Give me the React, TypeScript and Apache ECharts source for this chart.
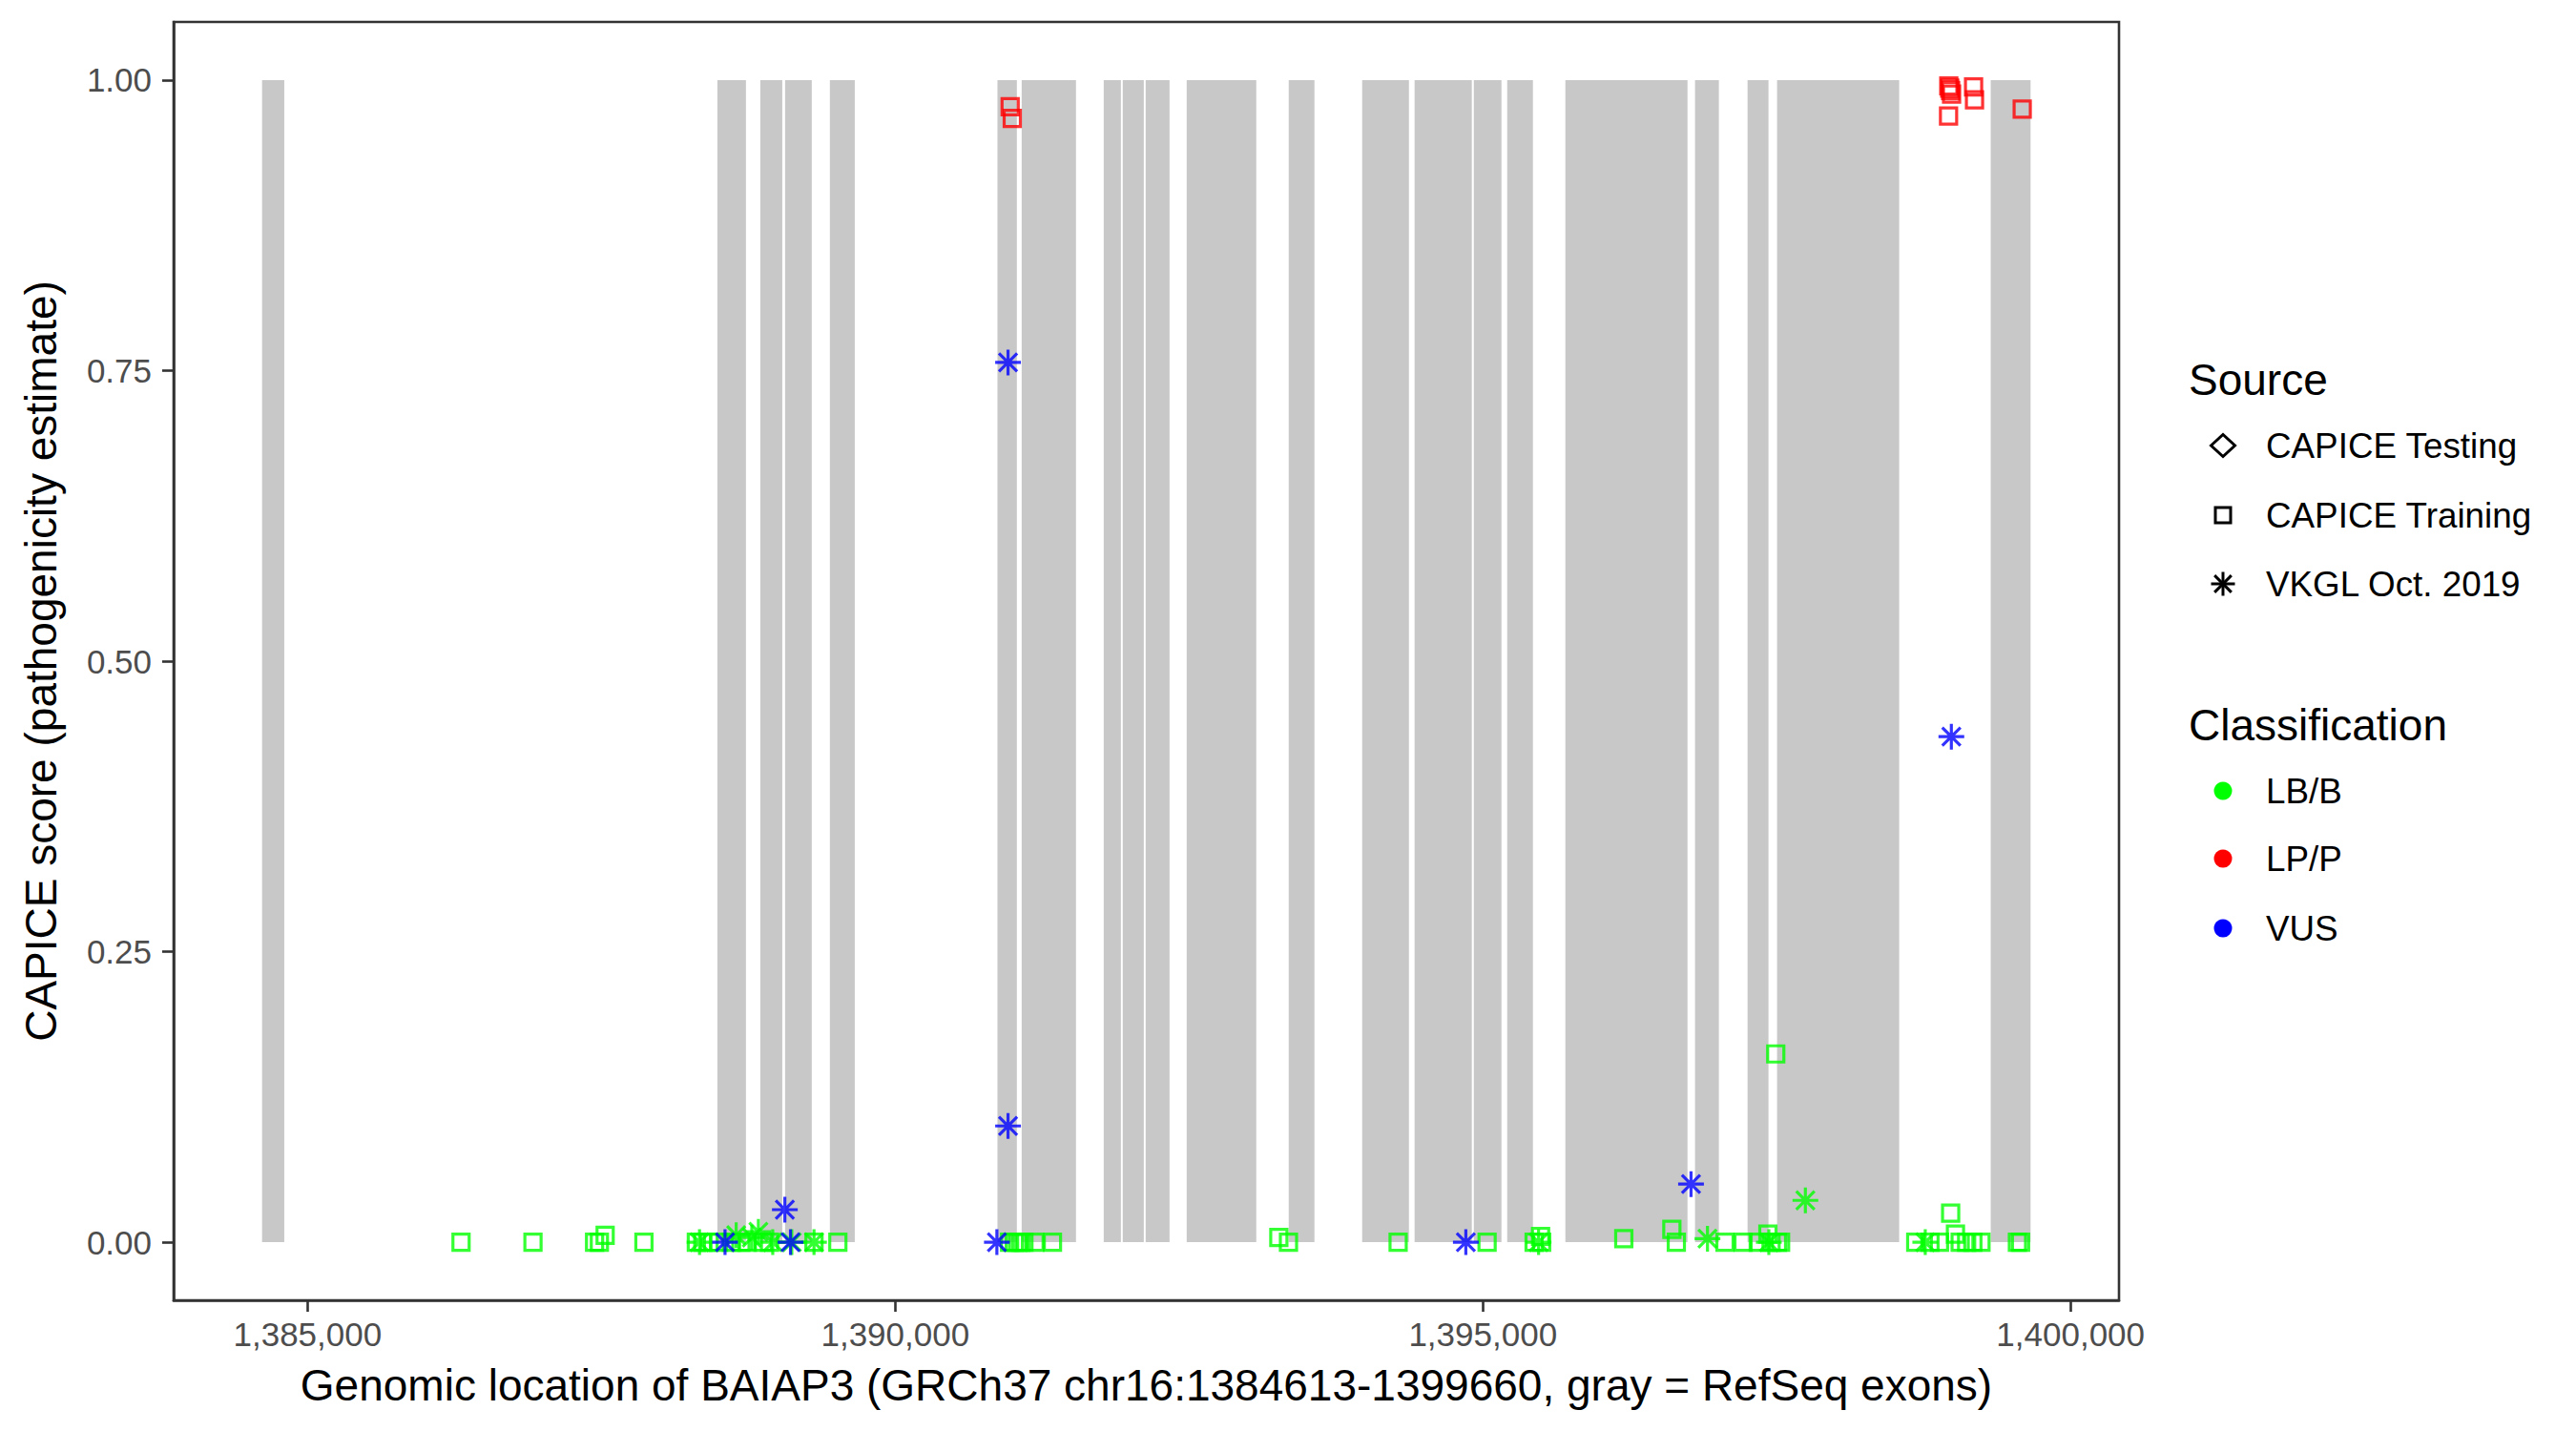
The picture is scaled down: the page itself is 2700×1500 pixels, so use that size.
import React, { useEffect, useRef } from "react";
import * as echarts from "echarts";

// ---- data ----
const exonStarts: number[] = [
  1384613, 1388487, 1388852, 1389063, 1389444, 1390870, 1391076, 1391774, 1391936, 1392131,
  1392480, 1393348, 1393973, 1394419, 1394923, 1395207, 1395702, 1396805, 1397252, 1397503, 1399321,
];
const exonEnds: number[] = [
  1384802, 1388730, 1389039, 1389290, 1389656, 1391035, 1391538, 1391920, 1392115, 1392334,
  1393072, 1393567, 1394371, 1394906, 1395158, 1395426, 1396741, 1397008, 1397430, 1398542, 1399660,
];

// CAPICE Training, LB/B (green squares): [position, score]
const trainingLB: [number, number][] = [
  [1386306, 0], [1386918, 0], [1387442, 0], [1387483, 0], [1387532, 0.006], [1387862, 0],
  [1388308, 0], [1388363, 0], [1388416, 0], [1388497, 0], [1388606, 0], [1388687, 0],
  [1388741, 0], [1388876, 0], [1388931, 0], [1389309, 0], [1389512, 0],
  [1390973, 0], [1391013, 0], [1391041, 0], [1391068, 0], [1391095, 0], [1391189, 0], [1391338, 0],
  [1393264, 0.004], [1393346, 0], [1394279, 0], [1395036, 0], [1395436, 0], [1395491, 0.005],
  [1395500, 0], [1396199, 0.003],
  [1396608, 0.011], [1396646, 0], [1397060, 0], [1397214, 0], [1397343, 0], [1397425, 0.007],
  [1397452, 0], [1397492, 0.162], [1397506, 0], [1397533, 0],
  [1398683, 0], [1398804, 0], [1398885, 0], [1398980, 0.025], [1399021, 0.007], [1399061, 0],
  [1399116, 0], [1399169, 0], [1399238, 0], [1399548, 0], [1399575, 0],
];

// CAPICE Training, LP/P (red squares)
const trainingLP: [number, number][] = [
  [1390978, 0.977], [1390996, 0.967],
  [1398962, 0.969], [1398964, 0.995], [1398972, 0.993], [1398980, 0.991], [1398988, 0.988],
  [1399175, 0.994], [1399183, 0.983], [1399589, 0.975],
];

// VKGL Oct. 2019, LB/B (green asterisks)
const vkglLB: [number, number][] = [
  [1388335, 0], [1388647, 0.006], [1388780, 0.004], [1388836, 0.009], [1388958, 0],
  [1389120, 0], [1389309, 0],
  [1395474, 0], [1396911, 0.003], [1397433, 0], [1397744, 0.036], [1398764, 0],
];

// VKGL Oct. 2019, VUS (blue asterisks)
const vkglVUS: [number, number][] = [
  [1388552, 0], [1389061, 0.028], [1389109, 0],
  [1390865, 0], [1390960, 0.1], [1390960, 0.757],
  [1394855, 0], [1396771, 0.05], [1398986, 0.435],
];

const xTicks: number[] = [1385000, 1390000, 1395000, 1400000];
const yTicks: number[] = [0, 0.25, 0.5, 0.75, 1];

const sourceLabels: string[] = ["CAPICE Testing", "CAPICE Training", "VKGL Oct. 2019"];
const classLabels: string[] = ["LB/B", "LP/P", "VUS"];

// ---- styles ----
const GREEN = "#00FF00";
const RED = "#FF0000";
const BLUE = "#0000FF";
const EXON_GRAY = "#C8C8C8";
const AXIS_DARK = "#333333";
const FONT = "'Liberation Sans', Arial, Helvetica, sans-serif";
const ASTERISK =
  "path://M0,-1L0,1M-1,0L1,0M-0.7071,-0.7071L0.7071,0.7071M-0.7071,0.7071L0.7071,-0.7071";

const geneStart = 1384613;
const geneEnd = 1399660;
const xPad = (geneEnd - geneStart) * 0.05;
const xMin = geneStart - xPad;
const xMax = geneEnd + xPad;
const yMin = -0.05;
const yMax = 1.05;

function squareSeries(name: string, data: [number, number][], color: string) {
  return {
    type: "scatter", name, data, symbol: "rect", symbolSize: 17, z: 3,
    itemStyle: { color: "rgba(0,0,0,0)", borderColor: color, borderWidth: 3.2 },
    emphasis: { disabled: true },
  };
}
function asteriskSeries(name: string, data: [number, number][], color: string) {
  return {
    type: "scatter", name, data, symbol: ASTERISK, symbolKeepAspect: true, symbolSize: 27, z: 4,
    itemStyle: { color: "rgba(0,0,0,0)", borderColor: color, borderWidth: 3.2 },
    emphasis: { disabled: true },
  };
}

function legendGraphics(): any[] {
  const symX = 2330;
  const textX = 2375;
  const srcY = [467, 540, 612];
  const clsY = [829, 900, 973];
  const clsColors = [GREEN, RED, BLUE];
  const els: any[] = [];
  const title = (t: string, y: number) => ({
    type: "text", x: 2294, y,
    style: { text: t, fontSize: 46, fontFamily: FONT, fill: "#000", verticalAlign: "middle", align: "left" },
  });
  const label = (t: string, y: number) => ({
    type: "text", x: textX, y,
    style: { text: t, fontSize: 36.8, fontFamily: FONT, fill: "#000", verticalAlign: "middle", align: "left" },
  });
  els.push(title("Source", 398));
  els.push({
    type: "polygon",
    shape: { points: [[symX - 12.5, srcY[0]], [symX, srcY[0] - 11.5], [symX + 12.5, srcY[0]], [symX, srcY[0] + 11.5]] },
    style: { fill: "none", stroke: "#000", lineWidth: 3 },
  });
  els.push({
    type: "rect",
    shape: { x: symX - 8, y: srcY[1] - 8, width: 16, height: 16 },
    style: { fill: "none", stroke: "#000", lineWidth: 3 },
  });
  const r = 12.5;
  const d = r * 0.7071;
  [[0, -r, 0, r], [-r, 0, r, 0], [-d, -d, d, d], [-d, d, d, -d]].forEach((l) =>
    els.push({
      type: "line",
      shape: { x1: symX + l[0], y1: srcY[2] + l[1], x2: symX + l[2], y2: srcY[2] + l[3] },
      style: { stroke: "#000", lineWidth: 3 },
    })
  );
  sourceLabels.forEach((t, i) => els.push(label(t, srcY[i])));
  els.push(title("Classification", 760));
  classLabels.forEach((t, i) => {
    els.push({ type: "circle", shape: { cx: symX, cy: clsY[i], r: 9.5 }, style: { fill: clsColors[i] } });
    els.push(label(t, clsY[i]));
  });
  return els;
}

export default function App() {
  const ref = useRef<HTMLDivElement>(null);
  useEffect(() => {
    if (!ref.current) return;
    const chart = echarts.init(ref.current, undefined, { renderer: "svg" });
    const exonData = exonStarts.map((s, i) => [s, exonEnds[i]]);
    chart.setOption({
      animation: false,
      backgroundColor: "#FFFFFF",
      grid: {
        left: 182, right: 479, top: 23, bottom: 137,
        show: true, borderColor: AXIS_DARK, borderWidth: 2.6, backgroundColor: "#FFFFFF", z: 0,
      },
      xAxis: {
        type: "value", min: xMin, max: xMax, position: "bottom",
        name: "Genomic location of BAIAP3 (GRCh37 chr16:1384613-1399660, gray = RefSeq exons)",
        nameLocation: "middle", nameGap: 66,
        nameTextStyle: { fontSize: 46, fontFamily: FONT, color: "#000" },
        axisLine: { show: true, onZero: false, lineStyle: { color: AXIS_DARK, width: 2.6 } },
        axisTick: {
          show: true, length: 12, inside: false, customValues: xTicks,
          lineStyle: { color: AXIS_DARK, width: 2.6 },
        },
        axisLabel: {
          customValues: xTicks, margin: 18, fontSize: 35, fontFamily: FONT, color: "#4D4D4D",
          formatter: (v: number) => v.toLocaleString("en-US"),
        },
        splitLine: { show: false },
      },
      yAxis: {
        type: "value", min: yMin, max: yMax, position: "left",
        name: "CAPICE score (pathogenicity estimate)",
        nameLocation: "middle", nameGap: 116, nameRotate: 90,
        nameTextStyle: { fontSize: 46, fontFamily: FONT, color: "#000" },
        axisLine: { show: true, onZero: false, lineStyle: { color: AXIS_DARK, width: 2.6 } },
        axisTick: {
          show: true, length: 12, inside: false, customValues: yTicks,
          lineStyle: { color: AXIS_DARK, width: 2.6 },
        },
        axisLabel: {
          customValues: yTicks, margin: 23, fontSize: 35, fontFamily: FONT, color: "#4D4D4D",
          formatter: (v: number) => v.toFixed(2),
        },
        splitLine: { show: false },
      },
      series: [
        {
          type: "custom", name: "exons", data: exonData, z: 1, silent: true, encode: { x: [0, 1] },
          renderItem: (params: any, api: any) => {
            const p0 = api.coord([api.value(0), 1]);
            const p1 = api.coord([api.value(1), 0]);
            return {
              type: "rect",
              shape: { x: p0[0], y: p0[1], width: p1[0] - p0[0], height: p1[1] - p0[1] },
              style: { fill: EXON_GRAY },
            };
          },
        },
        squareSeries("CAPICE Training LB/B", trainingLB, GREEN),
        squareSeries("CAPICE Training LP/P", trainingLP, RED),
        asteriskSeries("VKGL Oct. 2019 LB/B", vkglLB, GREEN),
        asteriskSeries("VKGL Oct. 2019 VUS", vkglVUS, BLUE),
      ],
      graphic: legendGraphics(),
    });
    return () => chart.dispose();
  }, []);
  return (
    <div
      ref={ref}
      style={{ position: "absolute", left: 0, top: 0, width: 2700, height: 1500, background: "#fff" }}
    />
  );
}
